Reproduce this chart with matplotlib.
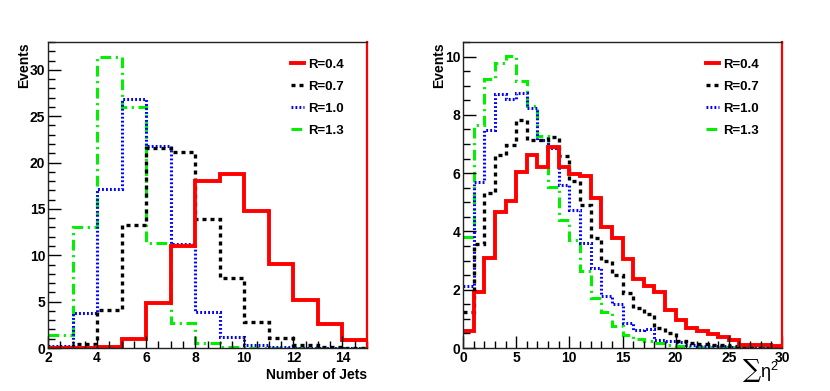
import matplotlib
matplotlib.use("Agg")
import matplotlib.pyplot as plt
import numpy as np
from matplotlib.ticker import MultipleLocator

plt.rcParams['font.family'] = ['Liberation Sans', 'DejaVu Sans']
plt.rcParams['font.weight'] = 'bold'
plt.rcParams['mathtext.fontset'] = 'dejavuserif'
plt.rcParams['mathtext.default'] = 'regular'

labels = ['R=0.4', 'R=0.7', 'R=1.0', 'R=1.3']

# number of jets, bins 2..15
njet_edges = np.arange(2, 16)
njet_r04 = [0.0, 0.0, 0.1, 1.0, 4.8, 11.0, 18.0, 18.8, 14.8, 9.1, 5.2, 2.6, 0.9]
njet_r07 = [0.1, 0.4, 4.1, 13.3, 21.6, 21.1, 13.9, 7.5, 2.8, 1.1, 0.3, 0.1, 0.05]
njet_r10 = [0.2, 3.8, 17.1, 26.9, 21.8, 11.2, 3.9, 1.2, 0.3, 0.1, 0.05, 0.0, 0.0]
njet_r13 = [1.4, 13.0, 31.4, 26.0, 11.3, 2.7, 0.5, 0.1, 0.05, 0.0, 0.0, 0.0, 0.0]

# sum eta^2, bins 0..30
eta_edges = np.arange(0, 31)
eta_r04 = [0.57, 1.92, 3.09, 4.66, 5.06, 6.04, 6.61, 6.21, 6.9, 6.2,
           5.96, 5.9, 5.13, 4.16, 3.77, 3.07, 2.38, 2.12, 1.91, 1.29,
           0.97, 0.69, 0.6, 0.48, 0.37, 0.29, 0.11, 0.11, 0.09, 0.06]
eta_r07 = [1.22, 3.58, 5.33, 6.62, 6.97, 7.83, 7.13, 7.13, 7.25, 6.6,
           5.73, 4.91, 3.78, 3.0, 2.49, 1.89, 1.38, 1.15, 0.69, 0.52,
           0.23, 0.17, 0.15, 0.11, 0.09, 0.06, 0.05, 0.05, 0.04, 0.04]
eta_r10 = [2.12, 5.68, 7.49, 8.7, 8.56, 8.76, 8.25, 7.13, 6.87, 5.6,
           4.75, 3.62, 2.74, 1.8, 1.5, 0.85, 0.63, 0.64, 0.26, 0.23,
           0.2, 0.1, 0.08, 0.07, 0.06, 0.05, 0.05, 0.04, 0.04, 0.03]
eta_r13 = [3.82, 7.65, 9.22, 9.77, 10.02, 9.17, 8.32, 7.27, 5.53, 4.4,
           3.7, 2.63, 1.72, 1.23, 0.75, 0.45, 0.3, 0.23, 0.17, 0.11,
           0.06, 0.05, 0.04, 0.03, 0.03, 0.02, 0.02, 0.02, 0.02, 0.02]

styles = [dict(color='#ff0000', lw=2.8, ls='-'),
          dict(color='black', lw=2.4, ls=(0, (1.2, 1.2))),
          dict(color='#0000ff', lw=2.2, ls=(0, (0.6, 0.7))),
          dict(color='#00f000', lw=2.2, ls=(0, (3.5, 1.5, 0.7, 1.5)))]

fig = plt.figure(figsize=(8.3, 3.91), dpi=100)
ax1 = fig.add_axes([48/830, 1-348/391, 319/830, 306/391])
ax2 = fig.add_axes([463/830, 1-348/391, 319/830, 306/391])


def style_axes(ax):
    for s in ['top', 'left', 'bottom']:
        ax.spines[s].set_color('#222222')
        ax.spines[s].set_linewidth(1.0)
    ax.spines['right'].set_color('#ff0000')
    ax.spines['right'].set_linewidth(1.6)
    ax.tick_params(which='both', direction='in', top=False, right=False,
                   labelsize=10, pad=2)
    ax.tick_params(which='major', length=9, width=1)
    ax.tick_params(which='minor', length=5, width=1)
    for t in ax.get_xticklabels() + ax.get_yticklabels():
        t.set_fontweight('bold')


sets1 = [njet_r04, njet_r07, njet_r10, njet_r13]
sets2 = [eta_r04, eta_r07, eta_r10, eta_r13]
for vals, st, lab in zip(sets1[::-1], styles[::-1], labels[::-1]):
    ax1.stairs(vals, njet_edges, baseline=None, label=lab, **st)
for vals, st, lab in zip(sets2[::-1], styles[::-1], labels[::-1]):
    ax2.stairs(vals, eta_edges, baseline=None, label=lab, **st)

ax1.set_xlim(2, 15)
ax1.set_ylim(0, 33)
ax1.xaxis.set_major_locator(MultipleLocator(2))
ax1.xaxis.set_minor_locator(MultipleLocator(0.5))
ax1.yaxis.set_major_locator(MultipleLocator(5))
ax1.yaxis.set_minor_locator(MultipleLocator(1))

ax2.set_xlim(0, 30)
ax2.set_ylim(0, 10.5)
ax2.xaxis.set_major_locator(MultipleLocator(5))
ax2.xaxis.set_minor_locator(MultipleLocator(1))
ax2.yaxis.set_major_locator(MultipleLocator(2))
ax2.yaxis.set_minor_locator(MultipleLocator(0.5))

for ax in (ax1, ax2):
    style_axes(ax)
    h, l = ax.get_legend_handles_labels()
    ax.legend(h[::-1], l[::-1], loc='upper left', bbox_to_anchor=(0.725, 0.985),
              frameon=False, handlelength=1.0, handletextpad=0.25,
              labelspacing=0.75, prop=dict(weight='bold', size=9.5))
    ax.set_ylabel('Events', fontsize=10, fontweight='bold', loc='top', labelpad=-1)

ax1.set_xlabel('Number of Jets', fontsize=10, fontweight='bold', loc='right', labelpad=2)
ax2.set_xlabel(r'$\sum\eta^{2}$', fontsize=13, fontweight='normal', loc='right')
ax2.xaxis.set_label_coords(0.99, -0.03)

fig.savefig('out.png', dpi=100)
